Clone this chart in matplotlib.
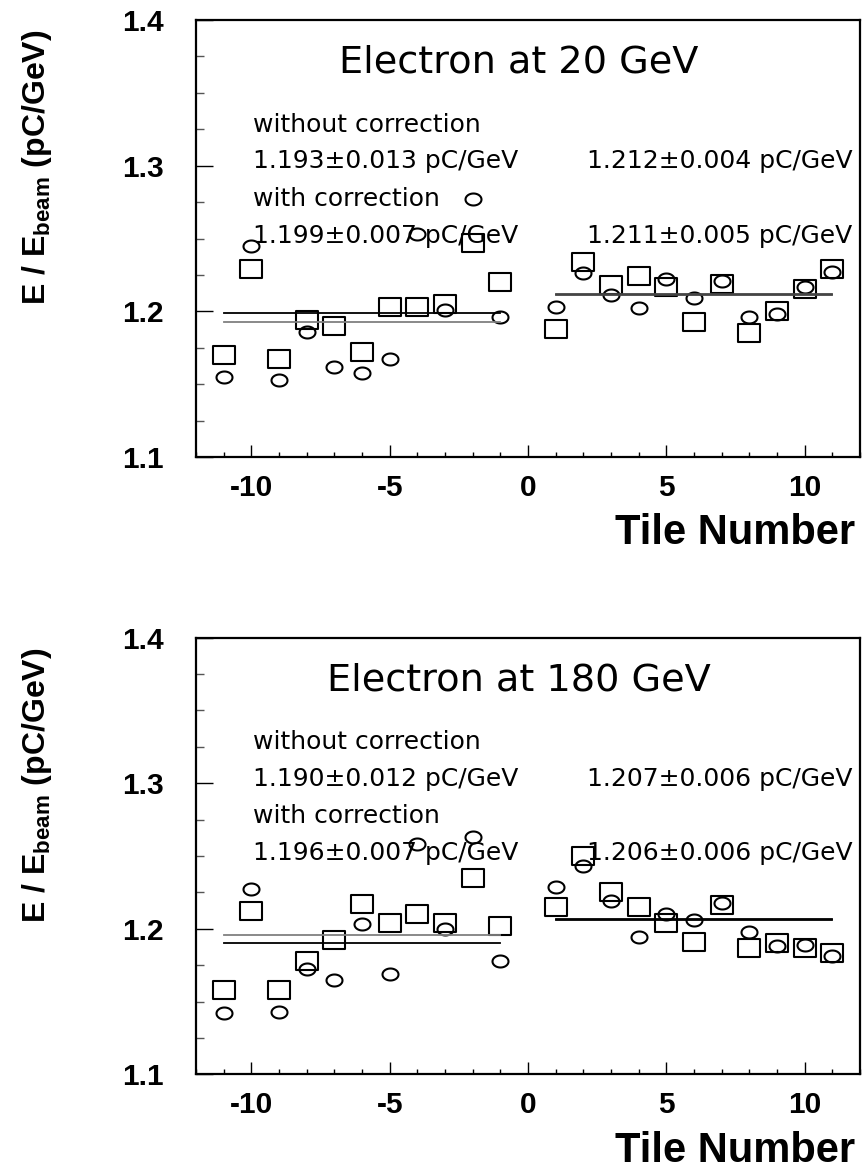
#!/usr/bin/env python3
"""
E/E_beam response per tile for electrons at 20 and 180 GeV,
with and without the tile-by-tile correction, plus the fitted means.
"""

import numpy as np
import matplotlib
matplotlib.use("Agg")
import matplotlib.pyplot as plt
from matplotlib.path import Path
from matplotlib.ticker import MultipleLocator

plt.rcParams['mathtext.fontset'] = 'custom'
plt.rcParams['mathtext.rm'] = 'Liberation Sans:bold'
plt.rcParams['mathtext.bf'] = 'Liberation Sans:bold'

tiles = [-11, -10, -9, -8, -7, -6, -5, -4, -3, -2, -1,
         1, 2, 3, 4, 5, 6, 7, 8, 9, 10, 11]

# 20 GeV electrons
raw_20 = [1.155, 1.245, 1.153, 1.186, 1.162, 1.158, 1.167, 1.253, 1.201, 1.277, 1.196,
          1.203, 1.226, 1.211, 1.202, 1.222, 1.209, 1.221, 1.196, 1.198, 1.217, 1.227]
corr_20 = [1.170, 1.229, 1.167, 1.194, 1.190, 1.172, 1.203, 1.203, 1.205, 1.247, 1.220,
           1.188, 1.234, 1.218, 1.224, 1.217, 1.193, 1.219, 1.185, 1.200, 1.215, 1.229]

# 180 GeV electrons
raw_180 = [1.142, 1.227, 1.143, 1.172, 1.165, 1.203, 1.169, 1.258, 1.200, 1.263, 1.178,
           1.229, 1.243, 1.219, 1.194, 1.210, 1.206, 1.218, 1.198, 1.188, 1.189, 1.181]
corr_180 = [1.158, 1.212, 1.158, 1.178, 1.192, 1.217, 1.204, 1.210, 1.204, 1.235, 1.202,
            1.215, 1.250, 1.225, 1.215, 1.204, 1.191, 1.216, 1.187, 1.190, 1.187, 1.183]

# fitted means (value, error): [left side, right side]
fit_raw_20 = [(1.193, 0.013), (1.212, 0.004)]
fit_corr_20 = [(1.199, 0.007), (1.211, 0.005)]
fit_raw_180 = [(1.190, 0.012), (1.207, 0.006)]
fit_corr_180 = [(1.196, 0.007), (1.206, 0.006)]

# slightly stretched open markers
_th = np.linspace(0, 2 * np.pi, 64)
ELLIPSE = Path(np.column_stack([np.cos(_th), 0.75 * np.sin(_th)]), closed=True)
RECT = Path([(-1, -0.77), (1, -0.77), (1, 0.77), (-1, 0.77), (-1, -0.77)], closed=True)

LBL = dict(family='Liberation Sans', weight='bold')
TXT = dict(family='DejaVu Sans', fontsize=18)


def draw_panel(ax, raw, corr, fit_raw, fit_corr, title, raw_colors, corr_colors):
    t = np.array(tiles)
    ax.plot(t, raw, ls='none', marker=ELLIPSE, ms=11.5, mfc='none', mec='black', mew=1.5)
    ax.plot(t, corr, ls='none', marker=RECT, ms=16, mfc='none', mec='black', mew=1.5)

    # fitted means, one segment per side
    sides = [(-11, -1), (1, 11)]
    for i, (x0, x1) in enumerate(sides):
        ax.plot([x0, x1], [fit_raw[i][0]] * 2, color=raw_colors[i], lw=1.3)
        ax.plot([x0, x1], [fit_corr[i][0]] * 2, color=corr_colors[i], lw=1.3)

    ax.set_xlim(-12, 12)
    ax.set_ylim(1.1, 1.4)
    ax.xaxis.set_major_locator(MultipleLocator(5))
    ax.xaxis.set_minor_locator(MultipleLocator(1))
    ax.yaxis.set_major_locator(MultipleLocator(0.1))
    ax.yaxis.set_minor_locator(MultipleLocator(0.025))
    ax.tick_params(axis='x', which='major', direction='in', length=8.5, width=1, pad=12)
    ax.tick_params(axis='x', which='minor', direction='in', length=3.8, width=1)
    ax.tick_params(axis='y', which='major', direction='in', length=12, width=1, pad=23)
    ax.tick_params(axis='y', which='minor', direction='in', length=6, width=1, color='#555555')
    ax.set_xticks([-10, -5, 0, 5, 10])
    ax.set_xticklabels(['-10', '-5', '0', '5', '10'], fontsize=21.5, **LBL)
    ax.set_yticks([1.1, 1.2, 1.3, 1.4])
    ax.set_yticklabels(['1.1', '1.2', '1.3', '1.4'], fontsize=21.5, **LBL)
    for s in ax.spines.values():
        s.set_linewidth(1.6)

    ax.text(0.486, 0.902, title, transform=ax.transAxes, ha='center', va='center',
            family='DejaVu Sans', fontsize=27.5)
    ax.text(0.086, 0.760, 'without correction', transform=ax.transAxes,
            ha='left', va='center', **TXT)
    ax.text(0.086, 0.677, f'{fit_raw[0][0]:.3f}\u00b1{fit_raw[0][1]:.3f} pC/GeV',
            transform=ax.transAxes, ha='left', va='center', **TXT)
    ax.text(0.589, 0.677, f'{fit_raw[1][0]:.3f}\u00b1{fit_raw[1][1]:.3f} pC/GeV',
            transform=ax.transAxes, ha='left', va='center', **TXT)
    ax.text(0.086, 0.591, 'with correction', transform=ax.transAxes,
            ha='left', va='center', **TXT)
    ax.text(0.086, 0.506, f'{fit_corr[0][0]:.3f}\u00b1{fit_corr[0][1]:.3f} pC/GeV',
            transform=ax.transAxes, ha='left', va='center', **TXT)
    ax.text(0.589, 0.506, f'{fit_corr[1][0]:.3f}\u00b1{fit_corr[1][1]:.3f} pC/GeV',
            transform=ax.transAxes, ha='left', va='center', **TXT)

    ax.text(0.992, -0.2, 'Tile Number', transform=ax.transAxes,
            ha='right', va='baseline', fontsize=30, **LBL)
    ax.text(-0.239, 0.977, r'E / E$_{\mathrm{beam}}$ (pC/GeV)', transform=ax.transAxes,
            rotation=90, ha='center', va='top', fontsize=23, **LBL)


fig = plt.figure(figsize=(8.64, 11.7), dpi=100)
ax_top = fig.add_axes([0.2269, 0.6094, 0.7685, 0.3735])
ax_bot = fig.add_axes([0.2269, 0.0818, 0.7685, 0.3732])

draw_panel(ax_top, raw_20, corr_20, fit_raw_20, fit_corr_20, 'Electron at 20 GeV',
           raw_colors=['#808080', '#444444'], corr_colors=['black', '#444444'])
draw_panel(ax_bot, raw_180, corr_180, fit_raw_180, fit_corr_180, 'Electron at 180 GeV',
           raw_colors=['black', 'black'], corr_colors=['#808080', 'black'])

fig.savefig('out.png', dpi=100)
